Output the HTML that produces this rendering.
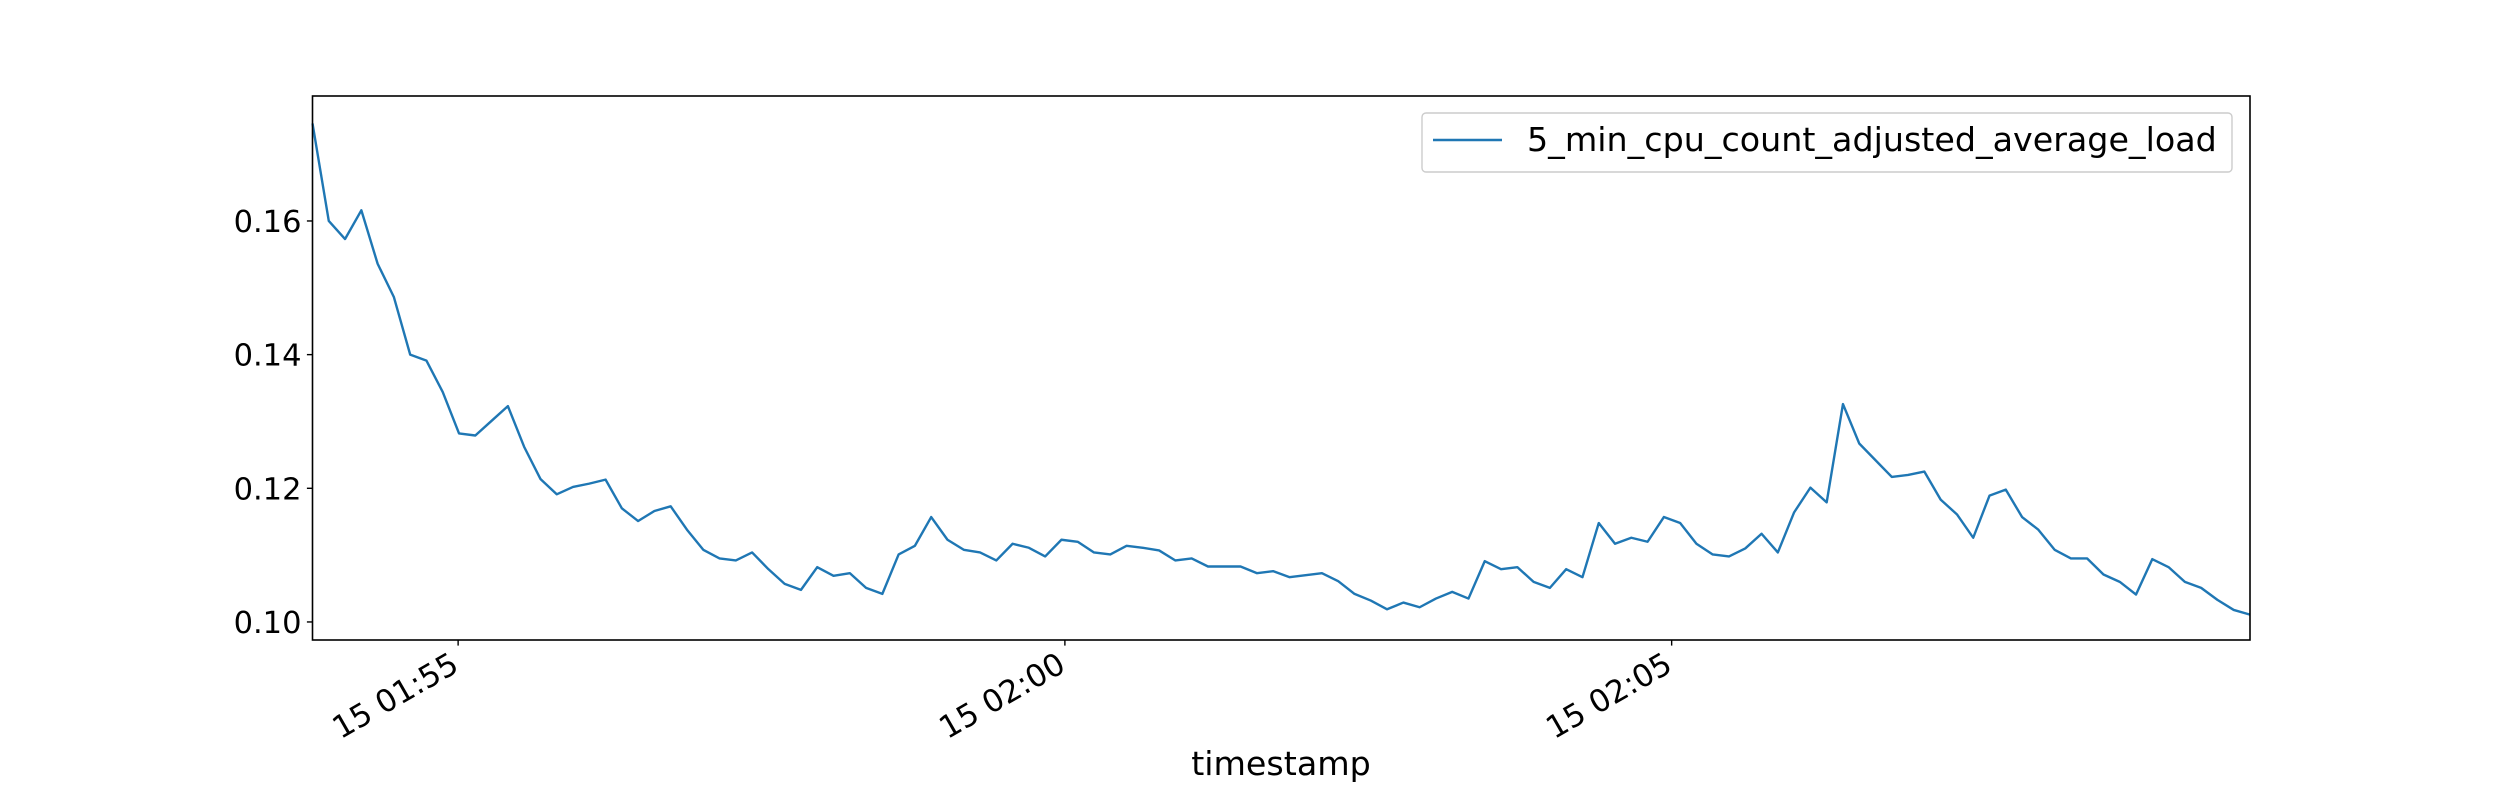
<!DOCTYPE html>
<html><head><meta charset="utf-8"><title>5 min cpu load</title>
<style>
html,body{margin:0;padding:0;background:#fff;}
svg{display:block;font-family:"DejaVu Sans","Liberation Sans",sans-serif;}
</style></head>
<body>
<svg id="chart" width="2500" height="800" viewBox="0 0 2500 800">
  <rect x="0" y="0" width="2500" height="800" fill="#fff"/>
  <g id="plot"></g>
  <rect x="312.5" y="96" width="1937.5" height="544" fill="none" stroke="#000" stroke-width="1.6"/>
  <g>
    <rect x="1422" y="113" width="810" height="59" rx="4" fill="#fff" fill-opacity="0.8" stroke="#cccccc" stroke-width="1.4"/>
    <line x1="1433" y1="140" x2="1502" y2="140" stroke="#1f77b4" stroke-width="2.4"/>
    <text x="1527" y="151" font-size="33.3" fill="#000">5_min_cpu_count_adjusted_average_load</text>
  </g>
  <text x="1281" y="775" font-size="33.3" text-anchor="middle" fill="#000">timestamp</text>
</svg>
<script>
const values = [0.1746,0.1600,0.1573,0.1616,0.1536,0.1486,0.1400,0.1391,0.1344,0.1282,
0.1279,0.1301,0.1323,0.1262,0.1214,0.1191,0.1202,0.1207,0.1213,0.1170,
0.1151,0.1166,0.1173,0.1138,0.1108,0.1095,0.1092,0.1104,0.1079,0.1057,
0.1048,0.1082,0.1069,0.1073,0.1051,0.1042,0.1101,0.1114,0.1157,0.1123,
0.1108,0.1104,0.1092,0.1117,0.1111,0.1098,0.1123,0.1120,0.1104,0.1101,
0.1114,0.1111,0.1107,0.1092,0.1095,0.1083,0.1083,0.1083,0.1073,0.1076,
0.1067,0.1070,0.1073,0.1061,0.1042,0.1032,0.1019,0.1029,0.1022,0.1035,
0.1045,0.1035,0.1091,0.1079,0.1082,0.1060,0.1051,0.1079,0.1067,0.1148,
0.1117,0.1126,0.1120,0.1157,0.1148,0.1117,0.1101,0.1098,0.1110,0.1132,
0.1104,0.1164,0.1201,0.1179,0.1326,0.1267,0.1242,0.1217,0.1220,0.1225,
0.1183,0.1161,0.1126,0.1189,0.1198,0.1157,0.1138,0.1108,0.1095,0.1095,
0.1071,0.1060,0.1041,0.1094,0.1082,0.1060,0.1051,0.1033,0.1018,0.1011];
const startSec = 6828;      // 01:53:48 as seconds after 00:00
const stepSec = 8.05;
const yTicks = [0.10, 0.12, 0.14, 0.16];
const yTickLabels = ["0.10","0.12","0.14","0.16"];
const xTicksSec = [6900, 7200, 7500];
const xTickLabels = ["15 01:55","15 02:00","15 02:05"];

const L=312.5, R=2250, T=96, B=640;
const yMin=0.0973, yMax=0.1787;
const xMin=startSec, xMax=startSec+(values.length-1)*stepSec;
function xs(t){return L+(t-xMin)/(xMax-xMin)*(R-L);}
function ys(v){return B-(v-yMin)/(yMax-yMin)*(B-T);}
const NS="http://www.w3.org/2000/svg";
const plot=document.getElementById('plot');
function mk(tag,attrs){const e=document.createElementNS(NS,tag);for(const k in attrs)e.setAttribute(k,attrs[k]);return e;}

yTicks.forEach((v,i)=>{
  const y=ys(v);
  const tk=mk('line',{x1:L-5.6,x2:L,y1:y,y2:y,stroke:'#000','stroke-width':1.4});
  
  
  plot.appendChild(tk);
  const tx=mk('text',{x:L-11,y:y+11,'font-size':30.5,'text-anchor':'end',fill:'#000'});
  tx.textContent=yTickLabels[i];
  
  
  plot.appendChild(tx);
});
xTicksSec.forEach((t,i)=>{
  const x=xs(t);
  const tk=mk('line',{x1:x,x2:x,y1:B,y2:B+5.6,stroke:'#000','stroke-width':1.4});
  
  
  plot.appendChild(tk);
  const ax=x-8;
  const tx=mk('text',{x:ax,y:B+33,'font-size':31,'text-anchor':'end',fill:'#000',transform:'rotate(-30 '+ax+' '+(B+12)+')'});
  tx.textContent=xTickLabels[i];
  
  
  plot.appendChild(tx);
});
const pts=values.map((v,i)=>xs(startSec+i*stepSec).toFixed(2)+','+ys(v).toFixed(2)).join(' ');
const line=mk('polyline',{points:pts,fill:'none',stroke:'#1f77b4','stroke-width':2.4,'stroke-linejoin':'round'});


plot.appendChild(line);
</script>
</body></html>
